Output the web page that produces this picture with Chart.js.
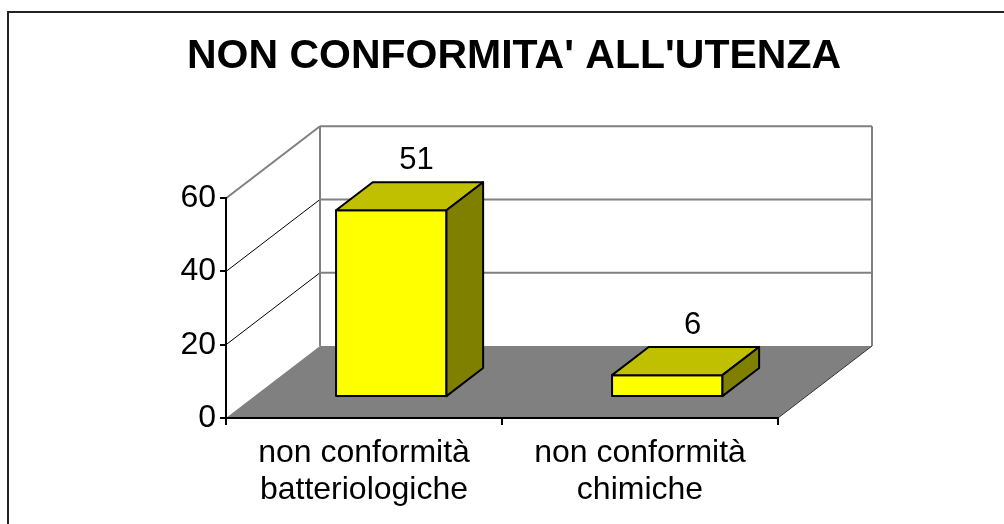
<!DOCTYPE html>
<html lang="it">
<head>
<meta charset="UTF-8">
<title>Non conformità all'utenza</title>
<script src="https://cdn.jsdelivr.net/npm/chart.js"></script>
<style>
  html, body { margin: 0; padding: 0; background: #fff; }
  #wrap { width: 1004px; height: 524px; }
</style>
</head>
<body>
<div id="wrap"><canvas id="grafico" width="1004" height="524"></canvas></div>
<script>
const titolo = "NON CONFORMITA' ALL'UTENZA";
const categorie = [['non conformità', 'batteriologiche'], ['non conformità', 'chimiche']];
const valori = [51, 6];
const yMin = 0, yMax = 60, yPasso = 20;

// effetto 3D: spostamento della parete di fondo e posizione delle barre in profondità
const PROF_X = 94, PROF_Y = -72;
const BARRA_T0 = 0.29, BARRA_T1 = 0.68;

const FONT = "'Liberation Sans', Arial, sans-serif";

function poligono(ctx, punti, colore) {
  ctx.beginPath();
  punti.forEach((p, i) => i ? ctx.lineTo(p[0], p[1]) : ctx.moveTo(p[0], p[1]));
  ctx.closePath();
  ctx.fillStyle = colore;
  ctx.fill();
  ctx.stroke();
}

const grafico3d = {
  id: 'grafico3d',
  beforeDraw(chart) {
    const { ctx, chartArea: a, scales: { y } } = chart;
    ctx.save();
    ctx.fillStyle = '#fff';
    ctx.fillRect(0, 0, chart.width, chart.height);

    // cornice del grafico
    ctx.strokeStyle = '#222';
    ctx.lineWidth = 2;
    ctx.strokeRect(8, 12, chart.width + 20, chart.height + 20);

    // pavimento
    const fondo = a.bottom + PROF_Y;
    ctx.fillStyle = '#808080';
    ctx.beginPath();
    ctx.moveTo(a.left, a.bottom);
    ctx.lineTo(a.right, a.bottom);
    ctx.lineTo(a.right + PROF_X, fondo);
    ctx.lineTo(a.left + PROF_X, fondo);
    ctx.closePath();
    ctx.fill();
    ctx.strokeStyle = '#333';
    ctx.lineWidth = 1;
    ctx.beginPath();
    ctx.moveTo(a.right, a.bottom);
    ctx.lineTo(a.right + PROF_X, fondo);
    ctx.stroke();

    // griglia: parete laterale e parete di fondo
    for (let v = yMin + yPasso; v <= yMax; v += yPasso) {
      const py = y.getPixelForValue(v);
      const alto = v === yMax;
      ctx.strokeStyle = alto ? '#808080' : '#000';
      ctx.lineWidth = alto ? 2 : 1;
      ctx.beginPath();
      ctx.moveTo(a.left, py);
      ctx.lineTo(a.left + PROF_X, py + PROF_Y);
      ctx.stroke();
      ctx.strokeStyle = '#808080';
      ctx.lineWidth = 2;
      ctx.beginPath();
      ctx.moveTo(a.left + PROF_X, py + PROF_Y);
      ctx.lineTo(a.right + PROF_X, py + PROF_Y);
      ctx.stroke();
    }
    const cima = y.getPixelForValue(yMax) + PROF_Y;
    ctx.strokeStyle = '#808080';
    ctx.lineWidth = 2;
    ctx.beginPath();
    ctx.moveTo(a.left + PROF_X, cima);
    ctx.lineTo(a.left + PROF_X, fondo);
    ctx.moveTo(a.right + PROF_X, cima);
    ctx.lineTo(a.right + PROF_X, fondo);
    ctx.stroke();
    ctx.restore();
  },
  afterDatasetsDraw(chart) {
    const { ctx } = chart;
    const meta = chart.getDatasetMeta(0);
    const sx = PROF_X * BARRA_T0, sy = PROF_Y * BARRA_T0;
    const dx = PROF_X * (BARRA_T1 - BARRA_T0), dy = PROF_Y * (BARRA_T1 - BARRA_T0);
    ctx.save();
    ctx.strokeStyle = '#000';
    ctx.lineWidth = 2;
    ctx.lineJoin = 'round';
    meta.data.forEach((el, i) => {
      const { x, y, base, width } = el.getProps(['x', 'y', 'base', 'width'], true);
      const l = x - width / 2 + sx, r = x + width / 2 + sx;
      const t = y + sy, b = base + sy;
      poligono(ctx, [[l, t], [r, t], [r, b], [l, b]], '#ffff00');
      poligono(ctx, [[l, t], [l + dx, t + dy], [r + dx, t + dy], [r, t]], '#c0c000');
      poligono(ctx, [[r, t], [r + dx, t + dy], [r + dx, b + dy], [r, b]], '#808000');
      ctx.fillStyle = '#000';
      ctx.font = '31px ' + FONT;
      ctx.textAlign = 'center';
      ctx.textBaseline = 'alphabetic';
      ctx.fillText(String(valori[i]), (l + r + dx) / 2 + 7, t + dy - 13);
    });
    ctx.restore();
  }
};

new Chart(document.getElementById('grafico'), {
  type: 'bar',
  data: {
    labels: categorie,
    datasets: [{
      data: valori,
      backgroundColor: 'rgba(0,0,0,0)',
      borderWidth: 0,
      categoryPercentage: 1,
      barPercentage: 0.4
    }]
  },
  options: {
    responsive: false,
    animation: false,
    layout: { padding: { left: 24, right: 0, top: 0, bottom: 0 } },
    plugins: {
      legend: { display: false },
      tooltip: { enabled: false },
      title: {
        display: true,
        text: titolo,
        color: '#000',
        font: { family: FONT, size: 41, weight: 'bold', lineHeight: 1.2 },
        padding: { top: 32, bottom: 117 }
      }
    },
    scales: {
      x: {
        grid: { display: true, drawOnChartArea: false, offset: true, tickLength: 7, color: '#000', lineWidth: 2 },
        border: { display: true, color: '#000', width: 2 },
        ticks: { color: '#000', font: { family: FONT, size: 32, lineHeight: 1.15 }, padding: 10, maxRotation: 0, autoSkip: false },
        afterFit(s) { s.height = 106; }
      },
      y: {
        min: yMin,
        max: yMax,
        ticks: { stepSize: yPasso, color: '#000', font: { family: FONT, size: 32 }, padding: 4 },
        grid: { drawOnChartArea: false, tickLength: 6, color: '#000', lineWidth: 2 },
        border: { color: '#000', width: 2 },
        afterFit(s) { s.width = 202; }
      },
      destra: {
        type: 'linear',
        position: 'right',
        display: true,
        grid: { display: false },
        ticks: { display: false },
        border: { display: false },
        afterFit(s) { s.width = 226; }
      }
    }
  },
  plugins: [grafico3d]
});
</script>
</body>
</html>
